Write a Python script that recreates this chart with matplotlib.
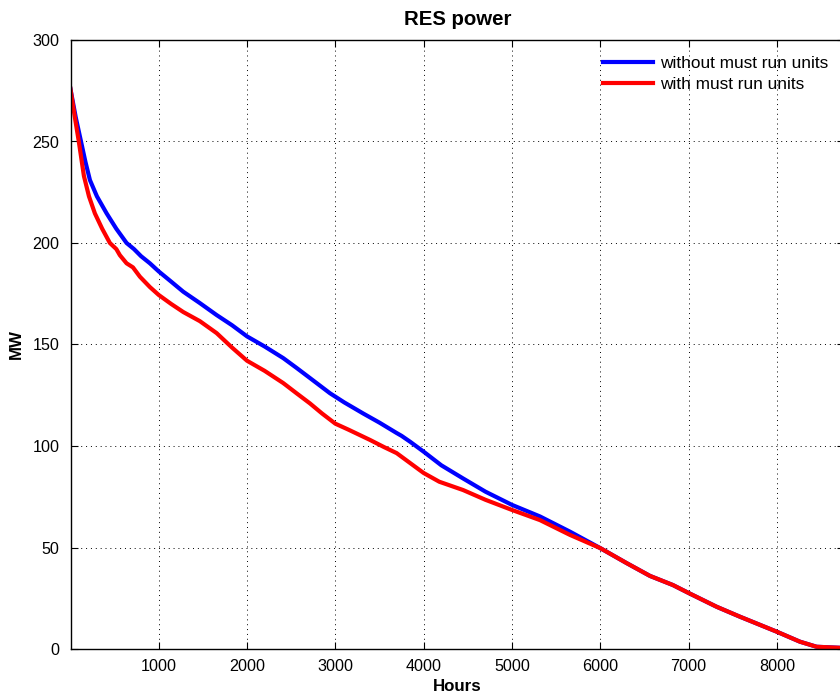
import matplotlib
matplotlib.use("Agg")
import matplotlib.pyplot as plt

plt.rcParams['font.family'] = ['Liberation Sans', 'DejaVu Sans']

hours_without = [0, 60, 120, 170, 221, 300, 410, 520, 636, 720, 800, 900, 1000, 1140, 1278,
                 1466, 1656, 1830, 2000, 2200, 2410, 2560, 2712, 2939, 3100, 3316, 3500,
                 3694, 3750, 3850, 4000, 4200, 4447, 4700, 5000, 5317, 5657, 6000, 6299,
                 6563, 6823, 7000, 7318, 7582, 8000, 8261, 8450, 8760]
mw_without = [276, 262, 250, 240, 231, 223, 214.6, 207, 200, 197, 193.5, 190, 186, 181, 176,
              170.4, 164.5, 159.5, 154, 149, 143.3, 138.5, 133.5, 126, 121.5, 116, 111.5,
              106.4, 105, 102, 97.2, 90.5, 84, 77.5, 71, 65.3, 57.8, 49.7, 42.3,
              36, 31.5, 27.6, 20.8, 15.9, 8.5, 3.6, 1.1, 0.5]

hours_with = [0, 50, 95, 153, 210, 277, 360, 447, 520, 560, 636, 708, 787, 900, 1000, 1140,
              1278, 1466, 1656, 1830, 2000, 2200, 2410, 2560, 2712, 2850, 3000, 3151, 3392,
              3550, 3694, 3850, 4000, 4177, 4447, 4700, 5000, 5317, 5657, 6000, 6299,
              6563, 6823, 7000, 7318, 7582, 8000, 8261, 8450, 8760]
mw_with = [276, 262, 250, 233, 223, 214.6, 207, 200, 197, 194, 190, 188, 183.4, 178.3, 174.4,
           170, 166, 161.5, 155.6, 148.5, 142, 137, 131, 126, 121, 116, 111, 108, 103,
           99.5, 96.5, 91.5, 86.7, 82.4, 78.3, 73.5, 68.5, 63.5, 56.2, 49.7, 42.3,
           36, 31.5, 27.6, 20.8, 15.9, 8.5, 3.6, 1.1, 0.5]

x_ticks = [1000, 2000, 3000, 4000, 5000, 6000, 7000, 8000]
y_ticks = [0, 50, 100, 150, 200, 250, 300]

fig = plt.figure(figsize=(8.4, 6.93), dpi=100)
ax = fig.add_axes([70.5 / 840, 44 / 693, (844 - 70.5) / 840, 609 / 693])

ax.plot(hours_without, mw_without, color='#0000ff', lw=3, label='without must run units')
ax.plot(hours_with, mw_with, color='#ff0000', lw=3, label='with must run units')

ax.set_xlim(1, 8760)
ax.set_ylim(0, 300)
ax.set_xticks(x_ticks)
ax.set_yticks(y_ticks)
ax.tick_params(direction='in', top=True, right=True, labelsize=11.6, length=5, width=0.8)
ax.tick_params(axis='y', pad=8)
ax.tick_params(axis='x', pad=7)
ax.grid(True, linestyle=(0, (1, 4)), color='black', linewidth=0.7)
for s in ax.spines.values():
    s.set_linewidth(1.0)

ax.set_title('RES power', fontsize=14.7, fontweight='bold', pad=11)
ax.set_xlabel('Hours', fontsize=12.2, fontweight='bold', labelpad=4)
ax.set_ylabel('MW', fontsize=12.2, fontweight='bold', labelpad=6)

leg = ax.legend(loc='upper right', frameon=False, fontsize=12.4, handlelength=2.9,
                handletextpad=0.4, borderaxespad=0.3, labelspacing=0.33,
                bbox_to_anchor=(0.995, 0.993))

fig.savefig('out.png', dpi=100)
